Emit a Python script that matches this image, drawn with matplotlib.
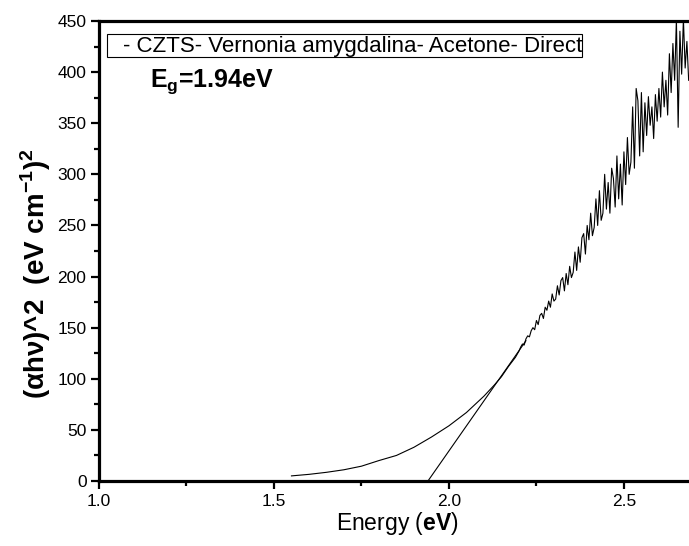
import numpy as np
import matplotlib
matplotlib.use('Agg')
from matplotlib import pyplot as plt
from matplotlib.patches import Rectangle

plt.rcParams['font.family'] = ['Liberation Sans', 'DejaVu Sans']
plt.rcParams['mathtext.fontset'] = 'custom'
plt.rcParams['mathtext.rm'] = 'Liberation Sans'
plt.rcParams['mathtext.bf'] = 'Liberation Sans:bold'

# Tauc plot: (alpha h nu)^2 against photon energy
energy_low = [1.55, 1.60, 1.65, 1.70, 1.75, 1.80, 1.85, 1.90, 1.95, 2.00,
              2.05, 2.10, 2.13, 2.15, 2.17, 2.19]
tauc_low = [5, 6.5, 8.5, 11, 14.5, 20, 25, 33, 43, 54,
            67, 83, 94, 102, 112, 121]

energy_high = [2.200, 2.205, 2.210, 2.215, 2.220, 2.225, 2.230, 2.235, 2.240, 2.245,
               2.250, 2.255, 2.260, 2.265, 2.270, 2.275, 2.280, 2.285, 2.290, 2.295,
               2.300, 2.305, 2.310, 2.315, 2.320, 2.325, 2.330, 2.335, 2.340, 2.345,
               2.350, 2.355, 2.360, 2.365, 2.370, 2.375, 2.380, 2.385, 2.390, 2.395,
               2.400, 2.405, 2.410, 2.415, 2.420, 2.425, 2.430, 2.435, 2.440, 2.445,
               2.450, 2.455, 2.460, 2.465, 2.470, 2.475, 2.480, 2.485, 2.490, 2.495,
               2.500, 2.505, 2.510, 2.515, 2.520, 2.525, 2.530, 2.535, 2.540, 2.545,
               2.550, 2.555, 2.560, 2.565, 2.570, 2.575, 2.580, 2.585, 2.590, 2.595,
               2.600, 2.605, 2.610, 2.615, 2.620, 2.625, 2.630, 2.635, 2.640, 2.645,
               2.650, 2.655, 2.660, 2.665, 2.670, 2.675, 2.680, 2.685]
tauc_high = [127, 131, 134, 133, 139, 142, 141, 147, 150, 148,
             157, 153, 162, 164, 159, 170, 167, 176, 170, 183,
             176, 178, 191, 182, 196, 199, 186, 203, 192, 210,
             199, 204, 224, 206, 229, 214, 238, 242, 222, 250,
             236, 262, 240, 248, 276, 250, 284, 255, 262, 300,
             266, 292, 262, 306, 296, 268, 318, 276, 310, 270,
             322, 290, 336, 300, 312, 366, 306, 384, 372, 318,
             380, 322, 370, 338, 376, 348, 366, 335, 378, 352,
             384, 356, 400, 366, 392, 358, 418, 380, 428, 392,
             452, 346, 440, 398, 452, 404, 430, 392]

energy = energy_low + energy_high
tauc = tauc_low + tauc_high

# linear fit of the absorption edge, crossing zero at the band gap
eg = 1.94
fit_slope = 490
fit_end = 2.22

label = '- CZTS- Vernonia amygdalina- Acetone- Direct'

fig = plt.figure(figsize=(6.89, 5.46), dpi=100)
ax = fig.add_axes([99/689, 1 - 481/546, 590/689 + 0.01, 460/546])

ax.plot(energy, tauc, color='black', lw=0.8)
fit_x = np.array([eg, fit_end])
ax.plot(fit_x, fit_slope * (fit_x - eg), color='black', lw=0.8)

ax.set_xlim(1.0, 2.686 + 0.01 * 689 / 350)
ax.set_ylim(0, 450)
ax.set_xticks([1.0, 1.5, 2.0, 2.5])
ax.set_xticks([1.25, 1.75, 2.25], minor=True)
ax.set_yticks(np.arange(0, 451, 50))
ax.set_yticks(np.arange(25, 450, 50), minor=True)
ax.xaxis.set_major_formatter(matplotlib.ticker.FormatStrFormatter('%.1f'))
ax.tick_params(which='major', direction='out', length=6, width=1.6, labelsize=12.5, pad=3)
ax.tick_params(which='minor', direction='out', length=3.5, width=1.6)
ax.tick_params(top=False, right=False)
for s in ax.spines.values():
    s.set_linewidth(2.3)
ax.spines['right'].set_visible(False)

ax.set_xlabel('Energy ($\\mathbf{eV}$)', fontsize=16.5, labelpad=1)
ax.set_ylabel('(αhν)^2  (eV cm$^{\\mathbf{-1}}$)$^{\\mathbf{2}}$',
              fontsize=20, fontweight='bold')
ax.yaxis.set_label_coords(-0.077, 0.45)

ax.add_patch(Rectangle((1 + 8/350, (481 - 57)/1.0222), 475/350, 23/1.0222,
                       fill=False, edgecolor='black', lw=0.8))
ax.text(1 + 24/350, 425.5, label, fontsize=16, va='center', ha='left')
ax.text(1.146, 391, 'E$_{\\mathbf{g}}$=1.94eV', fontsize=18, fontweight='bold',
        va='center', ha='left')

fig.savefig('out.png', dpi=100)
